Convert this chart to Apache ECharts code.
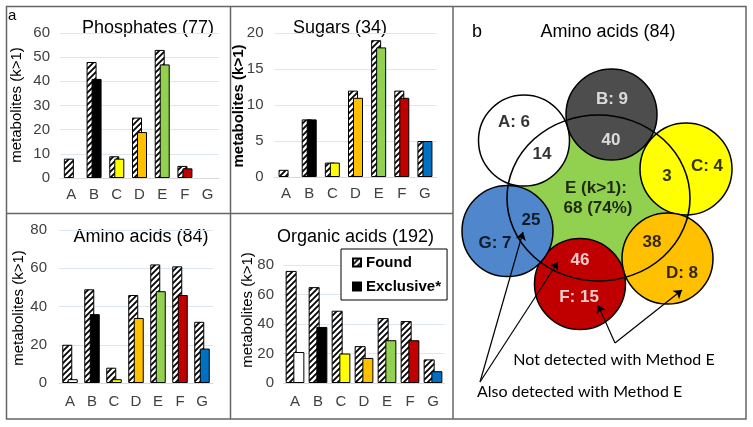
<!DOCTYPE html>
<html><head><meta charset="utf-8">
<script src="https://cdn.jsdelivr.net/npm/echarts@6/dist/echarts.min.js"></script>
<style>html,body{margin:0;padding:0;background:#fff}#c{width:753px;height:427px}</style>
</head><body><div id="c"></div>
<script>
// ---------- data ----------
const categories = ['A','B','C','D','E','F','G'];
const phosFound  = [8,48,9,25,53,5,0];
const phosExcl   = [0,41,8,19,47,4,0];
const sugarFound = [1,8,2,12,19,12,5];
const sugarExcl  = [0,8,2,11,18,11,5];
const aminoFound = [20,49,8,46,62,61,32];
const aminoExcl  = [2,36,2,34,48,46,18];
const orgFound   = [76,65,49,25,44,42,16];
const orgExcl    = [21,38,20,17,29,29,8];
const panelTitles = ['Phosphates (77)','Sugars (34)','Amino acids (84)','Organic acids (192)'];
const yMaxes     = [60,20,80,80];
const yIntervals = [10,5,20,20];
// Venn (amino acids): set, centre x, centre y, radius (in picture coordinates)
const vennSets   = ['A','B','C','D','F','G'];
const vennCx     = [524,611.5,686,667.5,580,507.5];
const vennCy     = [140.5,114.5,169,258.5,284,231];
const vennR      = [45.5,45.5,46,45.5,45.5,45.5];
const vennE      = [598.5,198,91.5,83]; // cx, cy, rx, ry
const vennLabels = [['A: 6',514,122],['14',542,154],['B: 9',612,99],['40',611,140],['C: 4',707,166],['3',667,176],
  ['E (k>1):',596,188],['68 (74%)',598,208],['25',531,220],['G: 7',495,243],['46',580,260],['F: 15',579,297],['38',652,242],['D: 8',682,273]];
const arrowsAlso = [[[480,382],[523,232]],[[480,382],[558,262]]];
const arrowsNot  = [[[615,343],[598,305]],[[615,343],[682,290]]];

// ---------- styles ----------
const exclColors = ['#FFFFFF','#000000','#FFFF00','#FFC000','#92D050','#C00000','#0070C0'];
const vennColors = {A:'#FFFFFF',B:'#4D4D4D',C:'#FFFF00',D:'#FFC000',F:'#C00000',G:'#4F86CC'};
const whiteText = {'40':1,'46':1,'F: 15':1,'B: 9':1};
const FONT = '"Liberation Sans", Arial, sans-serif';

const cv = document.createElement('canvas'); cv.width = 6; cv.height = 6;
const cx = cv.getContext('2d');
cx.fillStyle = '#fff'; cx.fillRect(0,0,6,6);
cx.strokeStyle = '#000'; cx.lineWidth = 1.8;
cx.beginPath(); cx.moveTo(-1,7); cx.lineTo(7,-1); cx.moveTo(-4,4); cx.lineTo(4,-4); cx.moveTo(2,10); cx.lineTo(10,2); cx.stroke();
const hatch = {image: cv, repeat: 'repeat'};

const grids = [
  {left:60, top:33, width:159, height:145},
  {left:274.5, top:33, width:162, height:144},
  {left:59, top:230, width:154, height:153},
  {left:283.5, top:265, width:161, height:118},
  {left:0, top:0, width:753, height:427}
];
const yLabelMargin = [10,11,12,9.5];
const xLabelMargin = [9,9,11,11];
const barW = [10,10,10,11];
const barG = ['-50%','-50%','-45%','-30%'];
const allFound = [phosFound,sugarFound,aminoFound,orgFound];
const allExcl  = [phosExcl,sugarExcl,aminoExcl,orgExcl];

const xAxes = [], yAxes = [], series = [];
for (let i=0;i<4;i++){
  xAxes.push({type:'category', gridIndex:i, data:categories,
    axisLine:{lineStyle:{color:'#D9D9D9'}}, axisTick:{show:false},
    axisLabel:{color:'#404040', fontSize:15, fontFamily:FONT, margin:xLabelMargin[i]}});
  yAxes.push({type:'value', gridIndex:i, min:0, max:yMaxes[i], interval:yIntervals[i],
    axisLine:{show:false}, axisTick:{show:false},
    axisLabel:{color:'#404040', fontSize:15, fontFamily:FONT, margin:yLabelMargin[i]},
    splitLine:{lineStyle:{color:'#DCE7F2'}}});
  series.push({type:'bar', name:'Found', xAxisIndex:i, yAxisIndex:i,
    data: allFound[i].map(v=>v===0?'-':v), barWidth:barW[i], barGap:barG[i],
    itemStyle:{color:hatch, borderColor:'#000', borderWidth:1}, z:2});
  series.push({type:'bar', name:'Exclusive*', xAxisIndex:i, yAxisIndex:i,
    data: allExcl[i].map((v,j)=>v===0?'-':{value:v, itemStyle:{color:exclColors[j]}}), barWidth:barW[i], barGap:barG[i],
    itemStyle:{color:'#000', borderColor:'#000', borderWidth:1}, z:3});
}
// Venn coordinate system (pixel-like)
xAxes.push({type:'value', gridIndex:4, min:0, max:753, show:false});
yAxes.push({type:'value', gridIndex:4, min:0, max:427, inverse:true, show:false});
series.push({type:'scatter', name:'E', xAxisIndex:4, yAxisIndex:4, symbol:'circle',
  symbolSize:[vennE[2]*2, vennE[3]*2], data:[[vennE[0],vennE[1]]],
  itemStyle:{color:'#92D050', opacity:1}, z:1, silent:true});
series.push({type:'scatter', name:'sets', xAxisIndex:4, yAxisIndex:4, symbol:'circle',
  data: vennSets.map((s,k)=>({value:[vennCx[k],vennCy[k]], symbolSize:vennR[k]*2,
    itemStyle:{color:vennColors[s], borderColor:'#000', borderWidth:1.5, opacity:1}})), z:2, silent:true});
series.push({type:'scatter', name:'Eoutline', xAxisIndex:4, yAxisIndex:4, symbol:'circle',
  symbolSize:[vennE[2]*2, vennE[3]*2], data:[[vennE[0],vennE[1]]],
  itemStyle:{color:'rgba(0,0,0,0)', borderColor:'#000', borderWidth:1.5, opacity:1}, z:3, silent:true});
series.push({type:'scatter', name:'vlabels', xAxisIndex:4, yAxisIndex:4, symbolSize:0,
  data: vennLabels.map(l=>({name:l[0], value:[l[1],l[2]], label: whiteText[l[0]] ? {color:'#fff'} : undefined})),
  label:{show:true, position:'inside', formatter:p=>p.name, fontFamily:FONT, fontWeight:'bold', fontSize:17, color:'#000'},
  labelLayout:{hideOverlap:false}, z:5, silent:true});
series.push({type:'lines', name:'arrows', coordinateSystem:'cartesian2d', xAxisIndex:4, yAxisIndex:4,
  data: arrowsAlso.concat(arrowsNot).map(c=>({coords:c})),
  symbol:['none','arrow'], symbolSize:8, lineStyle:{color:'#000', width:1.2, opacity:1}, z:6, silent:true});

const texts = [
  {t:'a', x:8, y:16, s:'15px', a:'left'},
  {t:panelTitles[0], x:148, y:28, s:'18px', a:'center'},
  {t:panelTitles[1], x:340, y:28, s:'18px', a:'center'},
  {t:panelTitles[2], x:141, y:237, s:'18px', a:'center'},
  {t:panelTitles[3], x:355.5, y:237, s:'18px', a:'center'},
  {t:'b', x:472, y:32, s:'18px', a:'left'},
  {t:'Amino acids (84)', x:608, y:32, s:'18px', a:'center'}
];
const graphic = [
  {type:'rect', shape:{x:6.5,y:6.5,width:739.5,height:412.5}, style:{fill:'none', stroke:'#666', lineWidth:1.5}, silent:true},
  {type:'line', shape:{x1:453,y1:6.5,x2:453,y2:419}, style:{stroke:'#666', lineWidth:1.5}, silent:true},
  {type:'line', shape:{x1:230.5,y1:6.5,x2:230.5,y2:419}, style:{stroke:'#666', lineWidth:1.5}, silent:true},
  {type:'line', shape:{x1:6.5,y1:213.5,x2:453,y2:213.5}, style:{stroke:'#666', lineWidth:1.5}, silent:true}
];
texts.forEach(o=>graphic.push({type:'text', x:o.x, y:o.y, silent:true,
  style:{text:o.t, font:o.s+' '+FONT, fill:'#000', align:o.a, verticalAlign:'middle'}}));
[[17,105,'normal'],[238.5,106,'bold'],[18.5,308,'normal'],[247.5,310,'normal']].forEach(p=>graphic.push({
  type:'text', x:p[0], y:p[1], rotation:Math.PI/2, silent:true,
  style:{text:'metabolites (k>1)', font:p[2]+' 15px '+FONT, fill:'#000', align:'center', verticalAlign:'middle'}}));
graphic.push({type:'text', x:614, y:360, silent:true, style:{text:'Not detected with Method E', font:'16px Lato, sans-serif', fill:'#000', align:'center', verticalAlign:'middle'}});
graphic.push({type:'text', x:477, y:392, silent:true, style:{text:'Also detected with Method E', font:'16px Lato, sans-serif', fill:'#000', align:'left', verticalAlign:'middle'}});

const chart = echarts.init(document.getElementById('c'), null, {renderer:'canvas'});
chart.setOption({
  animation:false,
  grid: grids,
  xAxis: xAxes,
  yAxis: yAxes,
  legend: {data:[{name:'Found', icon:'rect'},{name:'Exclusive*', icon:'rect'}], orient:'vertical', left:341, top:249, itemWidth:8, itemHeight:8,
    itemGap:9, padding:[6,6,6,11], borderColor:'#000', borderWidth:1, backgroundColor:'#fff',
    textStyle:{fontFamily:FONT, fontSize:15, fontWeight:'bold', color:'#000'}, selectedMode:false},
  series: series,
  graphic: graphic
});
</script></body></html>
